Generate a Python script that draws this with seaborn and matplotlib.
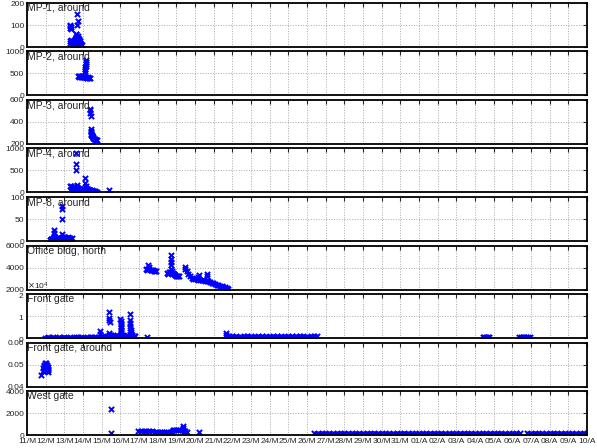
import numpy as np
import seaborn as sns
from matplotlib import pyplot as plt

# x values are days since 11 March 00:00
day_labels = ['11/M', '12/M', '13/M', '14/M', '15/M', '16/M', '17/M', '18/M', '19/M', '20/M',
              '21/M', '22/M', '23/M', '24/M', '25/M', '26/M', '27/M', '28/M', '29/M', '30/M',
              '31/M', '01/A', '02/A', '03/A', '04/A', '05/A', '06/A', '07/A', '08/A', '09/A', '10/A']

mp1_t = [2.30, 2.31, 2.33, 2.35, 2.37, 2.30, 2.33, 2.36, 2.39, 2.42, 2.45, 2.48, 2.51, 2.54, 2.57,
         2.60, 2.62, 2.64, 2.66, 2.68, 2.70, 2.72, 2.74, 2.75, 2.77, 2.80, 2.83, 2.86, 2.89, 2.93,
         2.50, 2.55, 2.65, 2.70, 2.78, 2.85]
mp1_v = [100, 95, 88, 82, 92, 25, 18, 30, 22, 15, 28, 20, 12, 25, 35,
         45, 58, 60, 100, 52, 150, 48, 40, 120, 35, 30, 25, 20, 15, 10,
         8, 10, 30, 20, 12, 18]

mp2_t = [2.73, 2.76, 2.80, 2.84, 2.88, 2.92, 2.96, 3.00, 3.04, 3.08, 3.12, 3.16, 3.20, 3.24, 3.28,
         3.32, 3.37, 3.10, 3.11, 3.12, 3.13, 3.14, 3.15, 3.16, 3.17]
mp2_v = [450, 440, 430, 445, 420, 435, 425, 440, 410, 430, 420, 415, 405, 400, 410,
         395, 400, 500, 550, 600, 640, 680, 720, 760, 800]

mp3_t = [3.38, 3.39, 3.40, 3.41, 3.42, 3.42, 3.43, 3.44, 3.45, 3.46, 3.48, 3.50, 3.53, 3.56, 3.60,
         3.64, 3.68, 3.72, 3.75]
mp3_v = [520, 505, 480, 450, 340, 320, 305, 295, 285, 280, 275, 270, 262, 255, 248,
         242, 238, 235, 232]

mp4_t = [2.30, 2.34, 2.38, 2.42, 2.46, 2.50, 2.54, 2.58, 2.62, 2.62, 2.62, 2.66, 2.70, 2.74, 2.78,
         2.82, 2.86, 2.90, 2.94, 2.98, 3.02, 3.06, 3.10, 3.10, 3.14, 3.18, 3.22, 3.26, 3.30, 3.35,
         3.40, 3.45, 3.50, 3.55, 3.60, 3.65, 3.70, 3.75, 2.40, 2.50, 2.60, 2.70, 2.80, 3.00, 3.20,
         3.40, 4.40]
mp4_v = [150, 120, 140, 100, 130, 110, 150, 90, 900, 650, 500, 180, 120, 100, 80,
         90, 70, 60, 80, 50, 90, 60, 320, 220, 150, 100, 80, 70, 60, 50,
         60, 40, 50, 30, 40, 30, 20, 15, 20, 30, 20, 40, 30, 20, 30,
         10, 60]

mp8_t = [1.23, 1.27, 1.31, 1.35, 1.39, 1.45, 1.45, 1.46, 1.50, 1.55, 1.60, 1.65, 1.70, 1.75, 1.80,
         1.86, 1.86, 1.87, 1.88, 1.90, 1.94, 1.98, 2.02, 2.06, 2.10, 2.15, 2.20, 2.25, 2.30, 2.35,
         2.39]
mp8_v = [3, 4, 5, 4, 6, 25, 18, 12, 8, 5, 6, 5, 7, 5, 6,
         80, 72, 50, 15, 10, 8, 9, 7, 8, 6, 7, 8, 6, 7, 5,
         6]

office_t = [6.37, 6.42, 6.47, 6.50, 6.52, 6.56, 6.62, 6.68, 6.74, 6.80, 6.86, 6.92,
            7.50, 7.55, 7.60, 7.65, 7.70, 7.70, 7.71, 7.72, 7.73, 7.75, 7.80, 7.85, 7.90, 7.95,
            8.00, 8.05, 8.10, 8.15, 9.18, 9.19, 9.62, 9.63]
office_v = [3850, 3800, 3900, 4200, 4050, 3850, 3800, 3780, 3750, 3720, 3700, 3700,
            3500, 3450, 3600, 3550, 5100, 4800, 4500, 4200, 3900, 3700, 3500, 3400, 3450, 3300,
            3250, 3200, 3250, 3200, 3100, 3300, 3450, 3200]
# continuous logging run after 19/M
office_run_t = [8.46, 8.48, 8.55, 8.64, 8.73, 8.82, 8.91, 9.00, 9.09, 9.18, 9.27, 9.36, 9.45,
                9.53, 9.62, 9.71, 9.80, 9.89, 9.98, 10.07, 10.16, 10.25, 10.34, 10.43, 10.52,
                10.61, 10.70, 10.79]
office_run_v = [4080, 3900, 3700, 3450, 3250, 3050, 3000, 2950, 2920, 2900, 2880, 2850, 2820,
                2780, 2760, 2740, 2700, 2620, 2550, 2500, 2450, 2400, 2350, 2300, 2250,
                2200, 2150, 2080]

front_t = [3.91, 3.91, 4.38, 4.40, 4.41, 4.42, 4.40, 4.45,
           5.00, 5.01, 5.02, 5.02, 5.03, 5.03, 5.04, 5.04, 5.05, 5.06,
           5.50, 5.51, 5.52, 5.53, 5.54, 5.55, 5.56, 5.58, 6.45, 10.66]
front_v = [3300, 2000, 11800, 9100, 8000, 7200, 2300, 1500,
           8600, 7800, 7000, 6200, 5400, 4600, 3800, 3000, 2200, 1500,
           11000, 8300, 6800, 5600, 4500, 3500, 2600, 1800, 600, 2500]
front_run1_t = [0.96, 1.10, 1.25, 1.40, 1.55, 1.70, 1.85, 2.00, 2.15, 2.30, 2.45, 2.60, 2.75,
                2.90, 3.05, 3.20, 3.35, 3.50, 3.65, 3.80, 3.95, 4.09, 4.20, 4.30, 4.40, 4.50,
                4.60, 4.70, 4.80, 4.90, 5.00, 5.12, 5.20, 5.30, 5.40, 5.50, 5.58, 5.65, 5.72,
                5.78]
front_run1_v = [200, 250, 150, 300, 200, 250, 180, 300, 220, 260, 200, 350, 250,
                300, 200, 280, 250, 300, 350, 400, 450, 500, 800, 1000, 1500, 1300,
                1200, 1100, 1000, 900, 1500, 1300, 1000, 800, 900, 1800, 1400, 1200, 1100,
                1000]
front_run2_t = [10.68, 10.80, 11.00, 11.20, 11.40, 11.60, 11.80, 12.00, 12.20, 12.40, 12.60,
                12.80, 13.00, 13.20, 13.40, 13.60, 13.80, 14.00, 14.20, 14.40, 14.60, 14.80,
                15.00, 15.20, 15.40, 15.52]
front_run2_v = [1500, 800, 700, 750, 650, 700, 800, 700, 650, 750, 700,
                700, 650, 750, 700, 700, 650, 750, 700, 700, 800, 700,
                650, 700, 750, 700]
front_run3_t = [24.42, 24.50, 24.60, 24.68, 24.75]
front_run3_v = [450, 500, 450, 500, 450]
front_run4_t = [26.35, 26.45, 26.55, 26.65, 26.75, 26.85, 26.94]
front_run4_v = [450, 500, 450, 500, 450, 500, 450]

front2_t = [0.73, 0.87, 0.88, 0.90, 0.92, 0.94, 0.96, 0.98, 1.00, 1.02, 1.04, 1.06, 1.08, 1.10, 1.12,
            1.14, 0.90, 0.95, 1.00, 1.05, 1.10]
front2_v = [0.0451, 0.0470, 0.0485, 0.0495, 0.0500, 0.0505, 0.0490, 0.0480, 0.0500, 0.0508, 0.0495,
            0.0485, 0.0500, 0.0490, 0.0480, 0.0475, 0.0475, 0.0470, 0.0478, 0.0472, 0.0468]

west_t = [4.50, 4.50, 8.34, 8.35, 9.23]
west_v = [2400, 200, 860, 650, 300]
west_run1_t = [5.96, 6.10, 6.25, 6.40, 6.55, 6.70, 6.86, 6.98, 7.10, 7.22, 7.34, 7.46, 7.58,
               7.70, 7.75, 7.80, 7.90, 8.00, 8.10, 8.20, 8.29, 8.40, 8.48, 8.55]
west_run1_v = [360, 350, 370, 360, 350, 360, 300, 250, 300, 260, 300, 250, 280,
               300, 250, 480, 470, 490, 480, 470, 450, 400, 350, 300]
west_run2_t = [15.4, 15.8, 16.2, 16.6, 17.0, 17.4, 17.8, 18.2, 18.6, 19.0, 19.4, 19.8, 20.2,
               20.6, 21.0, 21.4, 21.8, 22.2, 22.6, 23.0, 23.4, 23.8, 24.2, 24.6, 25.0, 25.4,
               25.8, 26.2, 26.4]
west_run2_v = [150, 160, 140, 150, 160, 150, 140, 150, 160, 150, 140, 150, 160,
               150, 140, 150, 160, 150, 140, 150, 160, 150, 140, 150, 160, 150,
               140, 150, 160]
west_run3_t = [26.8, 27.2, 27.6, 28.0, 28.4, 28.8, 29.2, 29.6, 30.0]
west_run3_v = [150, 160, 140, 150, 160, 150, 140, 150, 160]

panels = [
    ('MP-1, around', mp1_t, mp1_v, [], (0, 200), [0, 100, 200]),
    ('MP-2, around', mp2_t, mp2_v, [], (0, 1000), [0, 500, 1000]),
    ('MP-3, around', mp3_t, mp3_v, [], (200, 600), [200, 400, 600]),
    ('MP-4, around', mp4_t, mp4_v, [], (0, 1000), [0, 500, 1000]),
    ('MP-8, around', mp8_t, mp8_v, [], (0, 100), [0, 50, 100]),
    ('Office bldg, north', office_t, office_v, [(office_run_t, office_run_v)],
     (2000, 6000), [2000, 4000, 6000]),
    ('Front gate', front_t, front_v,
     [(front_run1_t, front_run1_v), (front_run2_t, front_run2_v),
      (front_run3_t, front_run3_v), (front_run4_t, front_run4_v)],
     (0, 20000), [0, 10000, 20000]),
    ('Front gate, around', front2_t, front2_v, [], (0.04, 0.06), [0.04, 0.05, 0.06]),
    ('West gate', west_t, west_v,
     [(west_run1_t, west_run1_v), (west_run2_t, west_run2_v), (west_run3_t, west_run3_v)],
     (0, 4000), [0, 2000, 4000]),
]

sns.set_style('white')
plt.rcParams['font.family'] = ['Liberation Sans', 'DejaVu Sans']

W, H = 597, 448
fig = plt.figure(figsize=(W / 100, H / 100), dpi=100)

for i, (title, t, v, runs, ylim, yticks) in enumerate(panels):
    top = 3 + 48.5 * i
    ax = fig.add_axes([27 / W, 1 - (top + 44) / H, 560 / W, 44 / H])
    ax.grid(True, color='#a8a8a8', linestyle=':', linewidth=0.7)
    ax.set_axisbelow(True)
    sns.scatterplot(x=t, y=v, ax=ax, marker='x', color='blue', s=14, linewidth=1.4)
    for rt, rv in runs:
        # dense logger readings: x markers merge into a solid band
        sns.lineplot(x=rt, y=rv, ax=ax, color='blue', linewidth=2.8, sort=False,
                     estimator=None, solid_capstyle='butt')
        sns.scatterplot(x=rt, y=rv, ax=ax, marker='x', color='blue', s=14, linewidth=1.4)
    ax.set_xlim(0, 30)
    ax.set_ylim(*ylim)
    ax.set_xticks(np.arange(31))
    ax.set_yticks(yticks)
    ax.set_xticklabels(day_labels)
    ax.tick_params(direction='in', top=True, right=True, length=3, width=0.8,
                   labelsize=6, pad=2, labelbottom=(i == len(panels) - 1))
    for sp in ax.spines.values():
        sp.set_linewidth(1.3)
        sp.set_color('black')
    if title == 'Front gate':
        ax.ticklabel_format(axis='y', style='sci', scilimits=(4, 4), useMathText=True)
        ax.yaxis.get_offset_text().set_fontsize(6)
    ax.text(0.0, 1.0, title, transform=ax.transAxes, ha='left', va='top', fontsize=7.5)

fig.savefig('out.png', dpi=100)
